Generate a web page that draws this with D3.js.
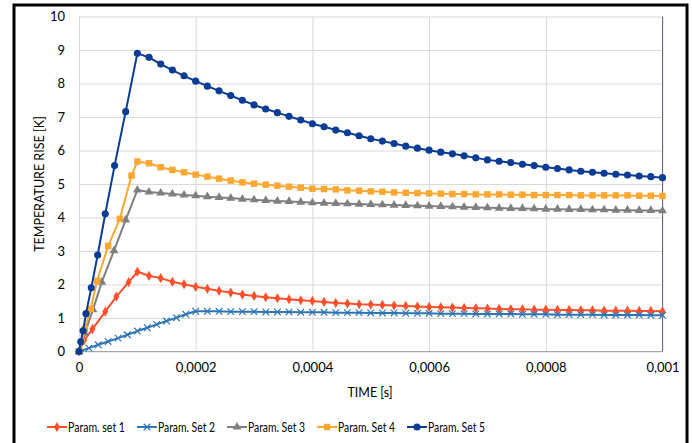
<!DOCTYPE html>
<html lang="en">
<head>
<meta charset="utf-8">
<title>Temperature rise</title>
<script src="https://cdn.jsdelivr.net/npm/d3@7/dist/d3.min.js"></script>
<style>
  body { margin: 0; background: #fff; }
  text { font-family: Lato, "Open Sans", sans-serif; fill: #000; }
</style>
</head>
<body>
<script>
// times are in microseconds, shown on the axis in seconds
var decayTime = [100, 120, 140, 160, 180, 200, 220, 240, 260, 280,
                 300, 320, 340, 360, 380, 400, 420, 440, 460, 480,
                 500, 520, 540, 560, 580, 600, 620, 640, 660, 680,
                 700, 720, 740, 760, 780, 800, 820, 840, 860, 880,
                 900, 920, 940, 960, 980, 1000];

var set1Rise = [0, 9, 23, 45, 64, 85];
var set1RiseVal = [0, 0.34, 0.67, 1.19, 1.64, 2.07];
var set1Decay = [2.38, 2.26, 2.19, 2.08, 2.01, 1.93, 1.87, 1.81, 1.76, 1.70,
                 1.66, 1.62, 1.59, 1.56, 1.53, 1.51, 1.48, 1.45, 1.43, 1.41,
                 1.40, 1.39, 1.37, 1.36, 1.34, 1.33, 1.32, 1.31, 1.30, 1.29,
                 1.28, 1.27, 1.26, 1.26, 1.25, 1.25, 1.24, 1.24, 1.23, 1.23,
                 1.22, 1.22, 1.22, 1.21, 1.21, 1.20];

var set2Rise = [0, 17, 33, 50, 67, 83, 100, 117, 133, 150, 167, 183];
var set2RiseVal = [0, 0.10, 0.20, 0.30, 0.40, 0.50, 0.61, 0.71, 0.81, 0.91, 1.01, 1.11];
// set 2 peaks at 200 us, so its decay starts at decayTime[5]
var set2Decay = [1.20, 1.20, 1.20, 1.19, 1.19, 1.19, 1.18, 1.18, 1.18, 1.17,
                 1.17, 1.17, 1.16, 1.16, 1.16, 1.15, 1.15, 1.15, 1.14, 1.14,
                 1.14, 1.13, 1.13, 1.13, 1.12, 1.12, 1.12, 1.12, 1.11, 1.11,
                 1.11, 1.10, 1.10, 1.10, 1.10, 1.09, 1.09, 1.09, 1.09, 1.08,
                 1.08];

var set3Rise = [0, 10, 24, 39, 60, 80];
var set3RiseVal = [0, 0.55, 1.25, 2.07, 3.01, 3.93];
var set3Decay = [4.82, 4.76, 4.73, 4.70, 4.67, 4.65, 4.62, 4.60, 4.58, 4.55,
                 4.53, 4.51, 4.49, 4.48, 4.46, 4.44, 4.43, 4.42, 4.41, 4.40,
                 4.39, 4.38, 4.37, 4.36, 4.35, 4.34, 4.33, 4.32, 4.31, 4.30,
                 4.29, 4.28, 4.27, 4.27, 4.26, 4.25, 4.25, 4.24, 4.24, 4.23,
                 4.23, 4.22, 4.22, 4.21, 4.21, 4.20];

var set4Rise = [0, 5, 10, 20, 31, 50, 70, 90];
var set4RiseVal = [0, 0.29, 0.67, 1.27, 2.11, 3.15, 3.96, 5.25];
var set4Decay = [5.67, 5.62, 5.50, 5.42, 5.35, 5.28, 5.22, 5.16, 5.10, 5.05,
                 5.01, 4.98, 4.95, 4.92, 4.89, 4.86, 4.85, 4.84, 4.81, 4.80,
                 4.78, 4.77, 4.75, 4.74, 4.73, 4.72, 4.71, 4.70, 4.70, 4.69,
                 4.69, 4.69, 4.68, 4.68, 4.67, 4.67, 4.67, 4.67, 4.66, 4.66,
                 4.66, 4.66, 4.66, 4.65, 4.65, 4.64];

var set5Rise = [0, 3, 7, 12, 21, 32, 45, 61, 80];
var set5RiseVal = [0, 0.29, 0.62, 1.13, 1.90, 2.88, 4.11, 5.55, 7.16];
var set5Decay = [8.90, 8.78, 8.58, 8.40, 8.23, 8.07, 7.92, 7.78, 7.64, 7.50,
                 7.36, 7.24, 7.13, 7.02, 6.91, 6.80, 6.71, 6.61, 6.53, 6.44,
                 6.35, 6.28, 6.21, 6.13, 6.07, 6.01, 5.95, 5.90, 5.84, 5.78,
                 5.72, 5.68, 5.64, 5.59, 5.55, 5.50, 5.46, 5.42, 5.38, 5.35,
                 5.32, 5.29, 5.27, 5.24, 5.22, 5.19];

var seriesNames = ["Param. set 1", "Param. Set 2", "Param. Set 3", "Param. Set 4", "Param. Set 5"];
var seriesColors = ["#ff4f2b", "#2e75b6", "#7f7f7f", "#ffa733", "#0a3c96"];
var seriesMarkers = ["diamond", "cross", "triangle", "square", "circle"];

var xTicks = [0, 200, 400, 600, 800, 1000];
var yTicks = [0, 1, 2, 3, 4, 5, 6, 7, 8, 9, 10];

function joinPts(t, v) {
  return t.map(function(d, i) { return {t: d, v: v[i]}; });
}

var series = [
  joinPts(set1Rise.concat(decayTime), set1RiseVal.concat(set1Decay)),
  joinPts(set2Rise.concat(decayTime.slice(5)), set2RiseVal.concat(set2Decay)),
  joinPts(set3Rise.concat(decayTime), set3RiseVal.concat(set3Decay)),
  joinPts(set4Rise.concat(decayTime), set4RiseVal.concat(set4Decay)),
  joinPts(set5Rise.concat(decayTime), set5RiseVal.concat(set5Decay))
];

var margin = {left: 79, top: 16.5};
var w = 583.5, h = 335;

var svg = d3.select("body").append("svg")
  .attr("width", 692)
  .attr("height", 443);

// outer frame
svg.append("rect")
  .attr("x", 14).attr("y", 5)
  .attr("width", 673).attr("height", 450)
  .attr("fill", "none")
  .attr("stroke", "#000")
  .attr("stroke-width", 3);

var g = svg.append("g")
  .attr("transform", "translate(" + margin.left + "," + margin.top + ")");

var xScale = d3.scaleLinear().domain([0, 1000]).range([0, w]);
var yScale = d3.scaleLinear().domain([0, 10]).range([h, 0]);

var xAxis = d3.axisBottom(xScale)
  .tickValues(xTicks)
  .tickSize(-h)
  .tickPadding(11)
  .tickFormat(function(d) { return d === 0 ? "0" : String(d / 1e6).replace(".", ","); });

var yAxis = d3.axisLeft(yScale)
  .tickValues(yTicks)
  .tickSize(-w)
  .tickPadding(14)
  .tickFormat(function(d) { return d; });

g.append("g")
  .attr("class", "x axis")
  .attr("transform", "translate(0," + h + ")")
  .call(xAxis);

g.append("g")
  .attr("class", "y axis")
  .call(yAxis);

g.selectAll(".axis .domain").remove();
g.selectAll(".axis line").attr("stroke", "#d9d9d9").attr("stroke-width", 1);
g.selectAll(".axis text").attr("font-size", "13px").attr("fill", "#000");

// plot area edges
g.append("line")
  .attr("x1", 0).attr("x2", w).attr("y1", h).attr("y2", h)
  .attr("stroke", "#a6a6a6");
g.append("line")
  .attr("x1", w).attr("x2", w).attr("y1", 0).attr("y2", h)
  .attr("stroke", "#6b6b80");

var line = d3.line()
  .x(function(d) { return xScale(d.t); })
  .y(function(d) { return yScale(d.v); });

var symbolTypes = {
  diamond: d3.symbolDiamond,
  cross: d3.symbolX,
  triangle: d3.symbolTriangle,
  square: d3.symbolSquare,
  circle: d3.symbolCircle
};
var symbolSizes = {diamond: 30, cross: 30, triangle: 34, square: 42, circle: 40};

function drawMarker(sel, i) {
  var m = seriesMarkers[i];
  sel.attr("d", d3.symbol().type(symbolTypes[m]).size(symbolSizes[m]));
  if (m === "cross") {
    sel.attr("fill", "none").attr("stroke", seriesColors[i]).attr("stroke-width", 1.2);
  } else {
    sel.attr("fill", seriesColors[i]).attr("stroke", "none");
  }
}

series.forEach(function(data, i) {
  g.append("path")
    .datum(data)
    .attr("fill", "none")
    .attr("stroke", seriesColors[i])
    .attr("stroke-width", 2)
    .attr("stroke-linejoin", "round")
    .attr("d", line);

  g.selectAll(".mk" + i)
    .data(data)
    .enter()
    .append("path")
    .attr("class", "mk" + i)
    .attr("transform", function(d) { return "translate(" + xScale(d.t) + "," + yScale(d.v) + ")"; })
    .call(drawMarker, i);
});

// axis titles
svg.append("text")
  .attr("x", 370)
  .attr("y", 397)
  .attr("text-anchor", "middle")
  .attr("font-size", "12.5px")
  .text("TIME [s]");

svg.append("text")
  .attr("transform", "translate(44,184) rotate(-90)")
  .attr("text-anchor", "middle")
  .attr("font-size", "12.5px")
  .text("TEMPERATURE RISE [K]");

// legend
var legendX = [47, 137, 227, 317, 407];
var legend = svg.selectAll(".legend")
  .data(seriesNames)
  .enter()
  .append("g")
  .attr("class", "legend")
  .attr("transform", function(d, i) { return "translate(" + legendX[i] + ",427)"; });

legend.append("line")
  .attr("x1", 0).attr("x2", 20)
  .attr("y1", 0).attr("y2", 0)
  .attr("stroke", function(d, i) { return seriesColors[i]; })
  .attr("stroke-width", 2);

legend.each(function(d, i) {
  d3.select(this).append("path")
    .attr("transform", "translate(10,0)")
    .call(drawMarker, i);
});

legend.append("text")
  .attr("x", 21)
  .attr("y", 4.5)
  .attr("font-size", "13px")
  .attr("textLength", 57)
  .attr("lengthAdjust", "spacingAndGlyphs")
  .text(function(d) { return d; });
</script>
</body>
</html>
